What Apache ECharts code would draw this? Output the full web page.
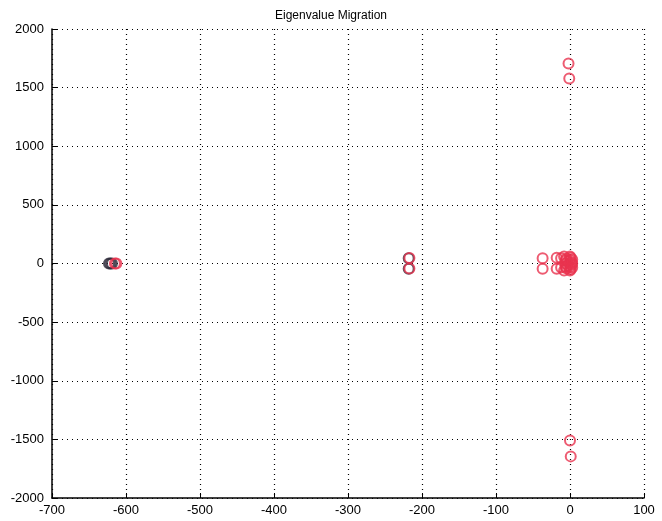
<!DOCTYPE html>
<html>
<head>
<meta charset="utf-8">
<script src="https://cdn.jsdelivr.net/npm/echarts@6/dist/echarts.min.js"></script>
<style>
  html, body { margin: 0; padding: 0; background: #fff; }
  #chart { width: 662px; height: 521px; }
</style>
</head>
<body>
<div id="chart"></div>
<script>
// eigenvalues [real, imag]
const startPoles = [
  [-623, 0], [-621, 0], [-619, 0],
  [-218, 45], [-218, -45]
];
const finalPoles = [
  [-615, 0], [-613, 0],
  [-217, 47], [-217, -43],
  [-37, 45], [-37, -45],
  [-18, 50], [-18, -45],
  [-12, 45], [-12, -35],
  [-8, 60], [-8, -60], [-6, 0], [-6, 25], [-6, -25],
  [-5, 40], [-5, -40], [-3, 20], [-3, -20],
  [0, 30], [0, -30], [1, 50], [1, -50], [0, 60], [0, -60],
  [2, 10], [2, -10], [3, 0], [3, 35], [3, -35],
  [-2, 1705], [-1, 1578],
  [0, -1510], [1, -1645]
];
const xTicks = [-700, 100, 100];  // min, max, step
const yTicks = [-2000, 2000, 500];

const chart = echarts.init(document.getElementById('chart'));

const labelStyle = {
  color: '#000',
  fontFamily: 'Liberation Sans, Arial, sans-serif',
  fontSize: 13,
  formatter: v => String(v)
};

const axisCommon = {
  type: 'value',
  axisLine: { show: true, onZero: false, lineStyle: { color: '#000', width: 1.5 } },
  axisTick: { show: true, inside: true, length: 5, lineStyle: { color: '#000' } },
  splitLine: { show: true, lineStyle: { color: '#000', type: [1, 4], width: 1.2 } }
};

chart.setOption({
  animation: false,
  title: {
    text: 'Eigenvalue Migration',
    left: 'center',
    top: 5,
    textStyle: { fontFamily: 'Liberation Sans, Arial, sans-serif', fontSize: 12, fontWeight: 'normal', color: '#000' }
  },
  grid: { left: 52, right: 18, top: 29, bottom: 23 },
  xAxis: Object.assign({}, axisCommon, {
    min: xTicks[0], max: xTicks[1], interval: xTicks[2],
    axisLabel: Object.assign({}, labelStyle, { margin: 6 })
  }),
  yAxis: Object.assign({}, axisCommon, {
    min: yTicks[0], max: yTicks[1], interval: yTicks[2],
    axisLabel: Object.assign({}, labelStyle, { margin: 8 })
  }),
  series: [
    {
      type: 'scatter',
      data: startPoles,
      symbol: 'circle',
      symbolSize: 10,
      itemStyle: { color: 'rgba(0,0,0,0)', borderColor: '#2e2b3a', borderWidth: 2 }
    },
    {
      type: 'scatter',
      data: finalPoles,
      symbol: 'circle',
      symbolSize: 10,
      itemStyle: { color: 'rgba(0,0,0,0)', borderColor: '#e8334f', borderWidth: 2 }
    }
  ]
});
</script>
</body>
</html>
